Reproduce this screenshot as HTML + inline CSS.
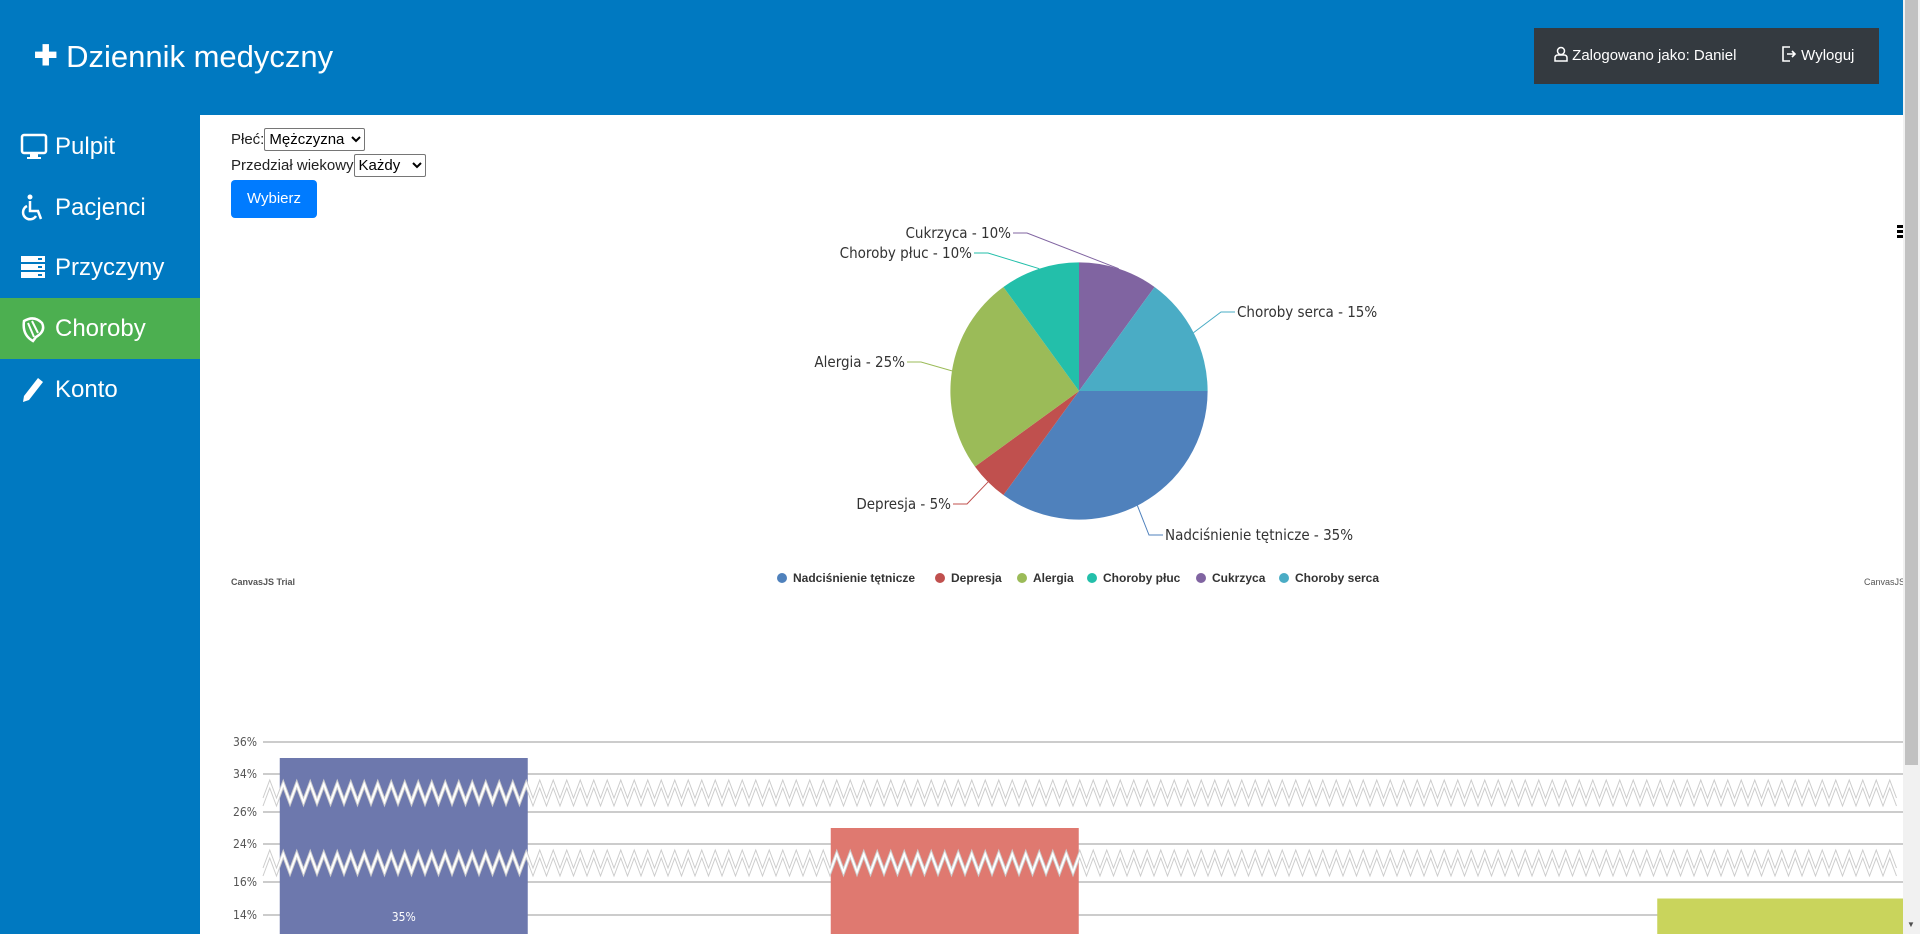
<!DOCTYPE html>
<html><head><meta charset="utf-8"><style>
*{box-sizing:border-box;margin:0;padding:0}
html,body{width:1920px;height:934px;overflow:hidden}
body{background:#fff;font-family:"Liberation Sans",sans-serif;position:relative}
.abs{position:absolute}
#header{left:0;top:0;width:1920px;height:115px;background:#0079c1}
#title{left:34px;top:32px;color:#fff;font-size:31px;line-height:48px;white-space:nowrap}
#login{left:1534px;top:28px;width:345px;height:56px;background:#343a40;color:#fff;font-size:15px}
#sidebar{left:0;top:115px;width:200px;height:819px;background:#0079c1}
.nav{position:absolute;left:0;width:200px;height:61px;color:#fff;font-size:24px;line-height:61px;padding-left:55px}
.nav svg{position:absolute;left:20px;top:17px}
#form{left:231px;top:128px;font-size:15px;color:#222}
select{font-family:"Liberation Sans",sans-serif;font-size:15px;height:23px;border:1px solid #767676;border-radius:2px;background:#fff;color:#000}
#btn{left:231px;top:180px;width:86px;height:38px;background:#007bff;color:#fff;border-radius:4px;font-size:15px;line-height:38px;text-align:center}
#scroll{left:1903px;top:0;width:17px;height:934px;background:#f1f1f1}
#thumb{left:1905px;top:0;width:13px;height:765px;background:#c1c1c1}
</style></head><body>
<div id="header" class="abs"></div>
<div id="title" class="abs"><span style="font-size:28px;font-weight:bold;vertical-align:2px">✚</span> Dziennik medyczny</div>
<div id="login" class="abs">
 <span class="abs" style="left:20px;top:18px">
  <svg width="14" height="16" viewBox="0 0 14 16" style="vertical-align:-2px"><circle cx="7" cy="5" r="3.5" fill="none" stroke="#fff" stroke-width="1.5"/><path d="M1 15 V12 Q1 9 4 9 H10 Q13 9 13 12 V15 Z" fill="none" stroke="#fff" stroke-width="1.5"/></svg> Zalogowano jako: Daniel</span>
 <span class="abs" style="left:248px;top:18px">
  <svg width="15" height="16" viewBox="0 0 15 16" style="vertical-align:-2px"><path d="M8 1 H1 V15 H8" fill="none" stroke="#fff" stroke-width="1.6"/><path d="M5 8 H13 M10 5 L13 8 L10 11" fill="none" stroke="#fff" stroke-width="1.6"/></svg> Wyloguj</span>
</div>
<div id="sidebar" class="abs">
 <div class="nav" style="top:1px"><svg width="28" height="28" viewBox="0 0 28 28"><rect x="2" y="2" width="24" height="18" rx="2" fill="none" stroke="#fff" stroke-width="2.5"/><rect x="10" y="21" width="8" height="4" fill="#fff"/><rect x="7" y="24" width="14" height="2" fill="#fff"/></svg>Pulpit</div>
 <div class="nav" style="top:62px"><svg width="26" height="28" viewBox="0 0 26 28"><circle cx="10" cy="3" r="2.5" fill="#fff"/><path d="M10 7 V17 H18 L21 25" fill="none" stroke="#fff" stroke-width="2.5"/><path d="M7 12 A7 7 0 1 0 16 22" fill="none" stroke="#fff" stroke-width="2.5"/></svg>Pacjenci</div>
 <div class="nav" style="top:122px"><svg width="26" height="26" viewBox="0 0 26 26"><rect x="1" y="2" width="24" height="6" fill="#fff"/><rect x="1" y="10" width="24" height="6" fill="#fff"/><rect x="1" y="18" width="24" height="6" fill="#fff"/><rect x="18" y="4" width="4" height="2" fill="#0079c1"/><rect x="18" y="12" width="4" height="2" fill="#0079c1"/><rect x="18" y="20" width="4" height="2" fill="#0079c1"/></svg>Przyczyny</div>
 <div class="nav" style="top:183px;background:#4caf50"><svg width="26" height="28" viewBox="0 0 26 28"><path d="M4 6 Q14 0 22 8 Q26 16 16 22 L13 26 Q2 20 4 6 Z" fill="none" stroke="#fff" stroke-width="2.5"/><path d="M8 8 L14 22 M12 6 L18 18" stroke="#fff" stroke-width="2"/></svg>Choroby</div>
 <div class="nav" style="top:244px"><svg width="26" height="28" viewBox="0 0 26 28"><path d="M18 2 L23 6 L9 24 L3 26 L4 20 Z" fill="#fff"/></svg>Konto</div>
</div>
<div id="form" class="abs">
 <div style="height:30px"><span>Płeć:</span><select style="width:101px"><option>Mężczyzna</option></select></div>
 <div style="height:30px;margin-top:-4px"><span>Przedział wiekowy</span><select style="width:72px"><option>Każdy</option></select></div>
</div>
<div id="btn" class="abs">Wybierz</div>

<svg id="pie" class="abs" style="left:0;top:0" width="1920" height="934"></svg>
<div class="abs" style="left:231px;top:577px;font-size:9px;font-weight:bold;color:#555">CanvasJS Trial</div>
<div class="abs" style="left:1864px;top:577px;font-size:9px;color:#555">CanvasJS</div>
<div class="abs" style="left:1897px;top:225px;width:7px;height:14px"><div style="height:3px;background:#000;margin-bottom:2px"></div><div style="height:3px;background:#000;margin-bottom:2px"></div><div style="height:3px;background:#000"></div></div>

<svg id="bar" class="abs" style="left:0;top:0" width="1903" height="934"></svg>
<div id="scroll" class="abs"></div>
<div id="thumb" class="abs"></div>
<div class="abs" style="left:1907px;top:920px;font-size:8px;line-height:10px;color:#505050">▼</div>

<script>
const categories=["Nadciśnienie tętnicze","Depresja","Alergia","Choroby płuc","Cukrzyca","Choroby serca"];
const pieValues=[35,5,25,10,10,15];
const pieColors=["#4F81BC","#C0504E","#9BBB58","#23BFAA","#8064A1","#4AACC5"];
const barValues=[35,5,25,10,10,15];
const barColors=["#6D78AD","#51CDA0","#DF7970","#4C9CA0","#AE7D99","#C9D45C"];
const yTicks=[14,16,24,26,34,36];
const NS="http://www.w3.org/2000/svg";
function mk(parent,tag,attrs){const e=document.createElementNS(NS,tag);for(const k in attrs)e.setAttribute(k,attrs[k]);parent.appendChild(e);return e;}

// PIE
const pie=document.getElementById('pie');
const cx=1079,cy=391,R=128.6;
const labelPos=[[1165,535,'start'],[951,504,'end'],[905,362,'end'],[972,253,'end'],[1011,233,'end'],[1237,312,'start']];
const total=pieValues.reduce((a,b)=>a+b,0);
let ang=0;
pieValues.forEach((v,i)=>{
  const a0=ang,a1=ang+v/total*2*Math.PI;ang=a1;
  const x0=cx+R*Math.cos(a0),y0=cy+R*Math.sin(a0),x1=cx+R*Math.cos(a1),y1=cy+R*Math.sin(a1);
  const p=mk(pie,'path',{d:`M${cx},${cy} L${x0},${y0} A${R},${R} 0 ${a1-a0>Math.PI?1:0} 1 ${x1},${y1} Z`,fill:pieColors[i]});
  
  
  const am=(a0+a1)/2,ex=cx+R*Math.cos(am),ey=cy+R*Math.sin(am);
  const lp=labelPos[i];const lx=lp[0]+(lp[2]=='start'?-2:2);
  const bx=lp[2]=='start'?lx-14:lx+14;
  const l=mk(pie,'polyline',{points:`${ex},${ey} ${bx},${lp[1]} ${lx},${lp[1]}`,fill:'none',stroke:pieColors[i],'stroke-width':1});
  
  
  const t=mk(pie,'text',{x:lp[0],y:lp[1]+5,'text-anchor':lp[2],'font-size':15,fill:'#333','font-family':'DejaVu Sans Condensed, DejaVu Sans, sans-serif'});
  t.textContent=categories[i]+' - '+v+'%';
  
  
});
// legend
const legX=[782,940,1022,1092,1201,1284];
categories.forEach((c,i)=>{
  const g=mk(pie,'g',{});
  
  
  mk(g,'circle',{cx:legX[i],cy:578,r:5,fill:pieColors[i]});
  const t=mk(g,'text',{x:legX[i]+11,y:582,'font-size':12,'font-weight':'bold',fill:'#333','font-family':'Liberation Sans, sans-serif'});
  t.textContent=c;
});

// BAR
const bar=document.getElementById('bar');
const segs=[[14,16,915,882],[24,26,844,812],[34,36,774,742]];
function yScale(v){
  if(v<=segs[0][0])return segs[0][2]+(segs[0][0]-v)*16.5;
  for(let i=0;i<segs.length;i++){const s=segs[i];if(v<=s[1])return s[2]-(v-s[0])/(s[1]-s[0])*(s[2]-s[3]);
    if(i+1<segs.length&&v<segs[i+1][0])return (s[3]+segs[i+1][2])/2;}
  const s=segs[segs.length-1];return s[3]-(v-s[1])*16;
}
const plotL=266,catW=275.5,plotR=1903,frameB=934;
function xScale(i){return plotL+catW*(i+0.5);}
yTicks.forEach(v=>{
  const y=yScale(v);
  const l=mk(bar,'line',{x1:263,x2:plotR,y1:y,y2:y,stroke:'#bbb','stroke-width':1.5});
  
  
  const t=mk(bar,'text',{x:257,y:y+4,'text-anchor':'end','font-size':12,fill:'#555','font-family':'DejaVu Sans Condensed, Liberation Sans, sans-serif'});
  t.textContent=v+'%';
  
  
});
barValues.forEach((v,i)=>{
  const x=xScale(i)-124,y=Math.min(yScale(v),frameB);
  const r=mk(bar,'rect',{x:x,y:y,width:248,height:Math.max(0,frameB-y),fill:barColors[i]});
  
  
  const ly=yScale(v)+163;
  if(ly<frameB-2){
    const t=mk(bar,'text',{x:xScale(i),y:ly,'text-anchor':'middle','font-size':12,fill:'#fff','font-family':'DejaVu Sans Condensed, Liberation Sans, sans-serif'});
    t.textContent=v+'%';
    
    
  }
});
// scale breaks
[ (segs[0][3]+segs[1][2])/2, (segs[1][3]+segs[2][2])/2 ].forEach(yc=>{
  let top='',bot='';const per=13.5,amp=9;
  for(let x=263,k=0;x<=plotR;x+=per/2,k++){const dy=(k%2?-amp:amp);top+=`${x},${yc-4+dy} `;bot+=`${x},${yc+4+dy} `;}
  const tp=top.trim().split(' '),bp=bot.trim().split(' ').reverse();
  const band=mk(bar,'polygon',{points:tp.concat(bp).join(' '),fill:'#fff',stroke:'none'});
  
  
  mk(bar,'polyline',{points:top,fill:'none',stroke:'#ccc','stroke-width':1});
  mk(bar,'polyline',{points:bot,fill:'none',stroke:'#ccc','stroke-width':1});
});
</script>
</body></html>
